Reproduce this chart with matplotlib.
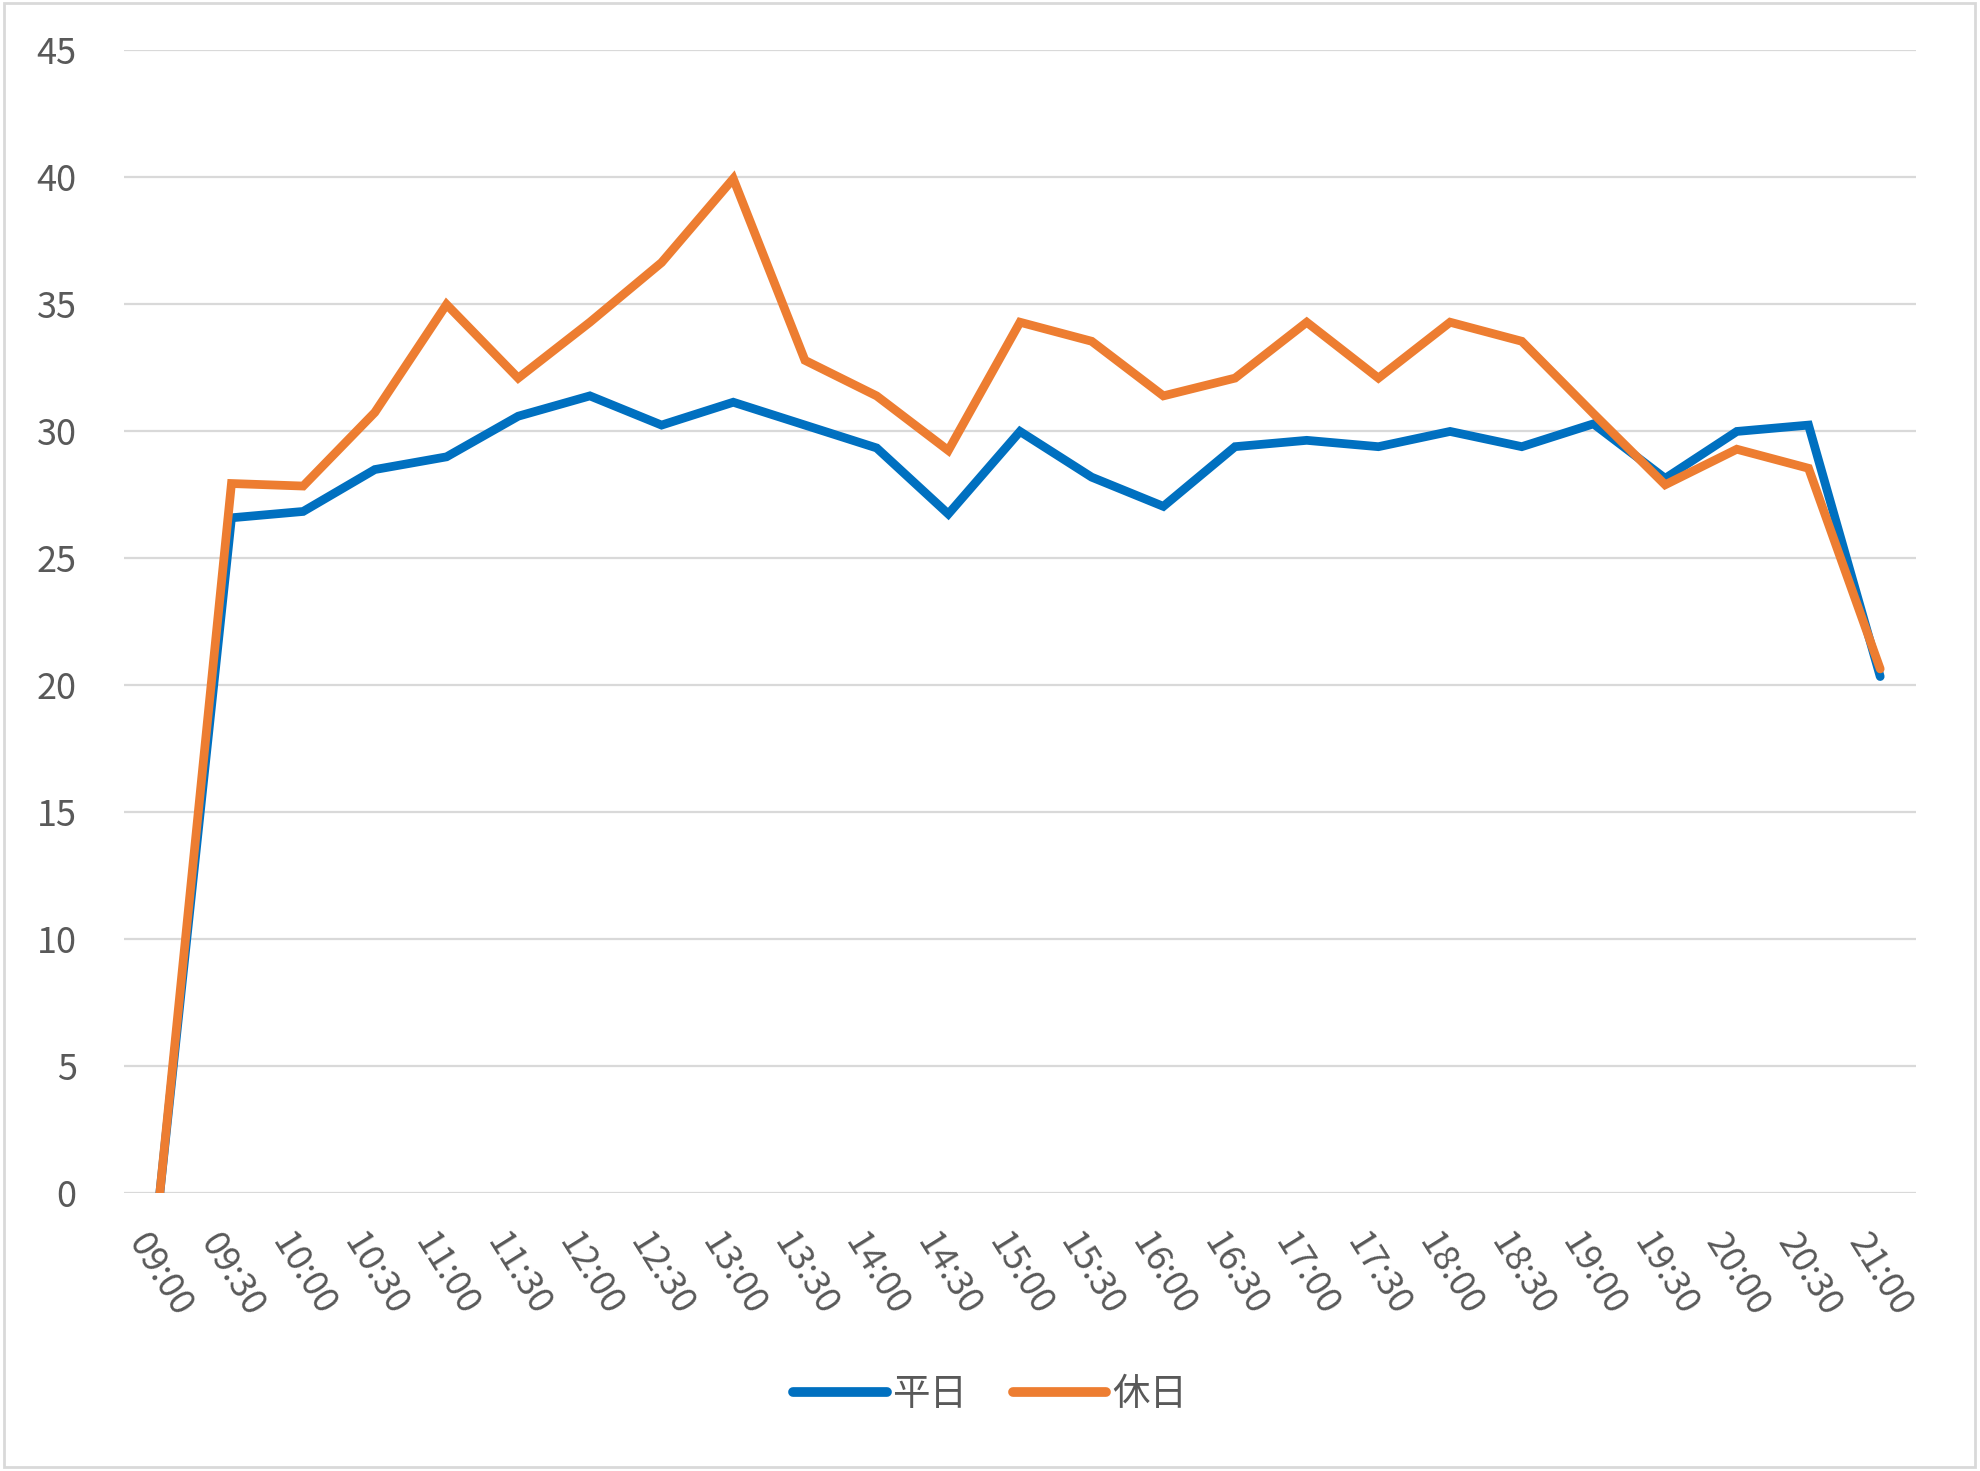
import matplotlib
matplotlib.use("Agg")
import matplotlib.pyplot as plt
from matplotlib.patches import Rectangle

plt.rcParams['font.family'] = ['Noto Sans CJK JP', 'DejaVu Sans']

times = ["09:00", "09:30", "10:00", "10:30", "11:00", "11:30", "12:00", "12:30",
         "13:00", "13:30", "14:00", "14:30", "15:00", "15:30", "16:00", "16:30",
         "17:00", "17:30", "18:00", "18:30", "19:00", "19:30", "20:00", "20:30", "21:00"]

weekday = [0, 26.6, 26.85, 28.5, 29.0, 30.6, 31.4, 30.25, 31.15, 30.25, 29.35, 26.75,
           30.0, 28.2, 27.05, 29.4, 29.65, 29.4, 30.0, 29.4, 30.3, 28.15, 30.0, 30.25, 20.35]
holiday = [0, 27.95, 27.85, 30.75, 35.0, 32.1, 34.3, 36.65, 39.95, 32.8, 31.4, 29.25,
           34.3, 33.55, 31.4, 32.1, 34.3, 32.1, 34.3, 33.55, 30.7, 27.9, 29.3, 28.55, 20.65]

series_names = ["平日", "休日"]
colors = ["#0070C0", "#ED7D31"]
text_color = "#595959"

fig = plt.figure(figsize=(19.8, 14.71), dpi=100)
ax = fig.add_axes([0.0626, 0.1887, 0.9051, 0.777])

x = list(range(len(times)))
for vals, name, c in zip([weekday, holiday], series_names, colors):
    ax.plot(x, vals, color=c, linewidth=6.3, label=name,
            solid_capstyle='round', solid_joinstyle='miter')

ax.set_xlim(-0.5, len(times) - 0.5)
ax.set_ylim(0, 45)
ax.set_yticks(range(0, 46, 5))
ax.yaxis.grid(True, color="#D9D9D9", linewidth=1.6)
ax.set_axisbelow(True)
for s in ax.spines.values():
    s.set_visible(False)
ax.tick_params(axis='both', length=0, labelsize=26, labelcolor=text_color)
ax.tick_params(axis='y', pad=34)
ax.tick_params(axis='x', pad=24)
ax.set_xticks(x)
ax.set_xticklabels(times, rotation=-58, ha='center', va='top', rotation_mode='default')

leg = fig.legend(loc='center', bbox_to_anchor=(0.5, 0.052), ncol=2, frameon=False,
                 fontsize=27, handlelength=2.5, handletextpad=0.15, columnspacing=1.2,
                 labelcolor=text_color)
for line in leg.get_lines():
    line.set_linewidth(7)
    line.set_solid_capstyle('round')

fig.patches.append(Rectangle((0.002, 0.003), 0.9955, 0.995, transform=fig.transFigure,
                             fill=False, edgecolor="#D9D9D9", linewidth=2))

fig.savefig("out.png", dpi=100)
